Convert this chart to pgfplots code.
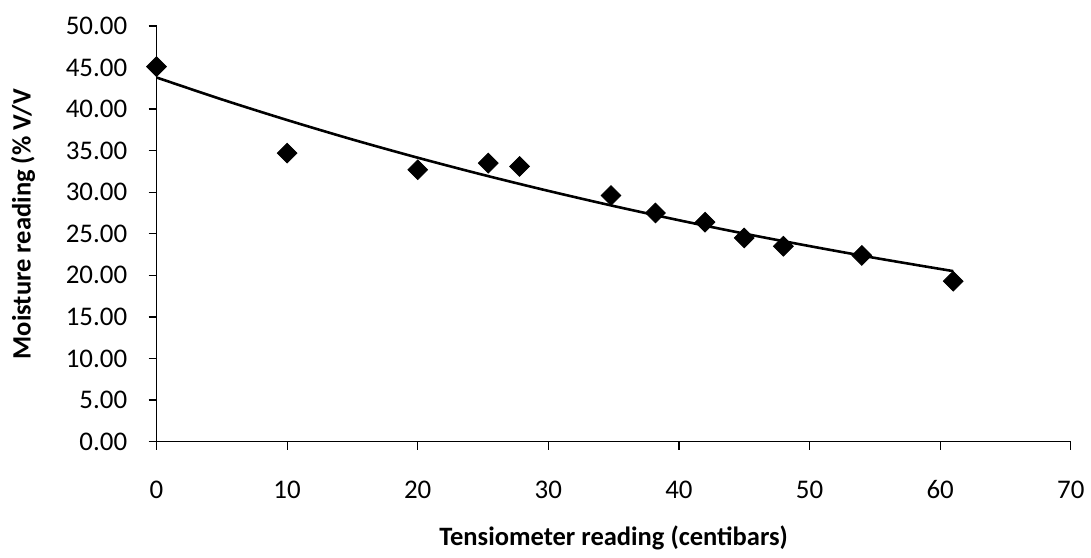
\documentclass[border=0pt]{standalone}
\usepackage{pgfplots}
\pgfplotsset{compat=1.18}
\usepackage{fontspec}
\setmainfont{Carlito}
\begin{document}
\begin{tikzpicture}
\begin{axis}[
  scale only axis,
  width=458.5bp, height=208.5bp,
  xmin=0, xmax=70, ymin=0, ymax=50,
  xtick={0,10,...,70}, ytick={0,5,...,50},
  axis lines=left,
  axis line style={-, black, line width=0.8bp},
  tick style={black, line width=0.6bp},
  major tick length=4bp,
  tick align=outside,
  clip=false,
  /pgf/number format/assume math mode=true,
  yticklabel style={/pgf/number format/.cd, fixed, fixed zerofill, precision=2, /tikz/.cd,
     font=\fontsize{13.5bp}{16bp}\selectfont, anchor=east, inner sep=0pt, xshift=-10.5bp},
  xticklabel style={font=\fontsize{13.5bp}{16bp}\selectfont, anchor=center, yshift=-20bp},
  xlabel={Tensiometer reading (centibars)},
  ylabel={Moisture reading (\% V/V},
  xlabel style={font=\bfseries\fontsize{13.3bp}{16bp}\selectfont, at={(axis description cs:0.5,0)}, anchor=center, yshift=-48.5bp},
  ylabel style={font=\bfseries\fontsize{13.3bp}{16bp}\selectfont, at={(axis description cs:-0.1461,0.523)}, anchor=center, rotate=0},
]
\addplot[only marks, mark=square*, mark size=3.5bp, mark options={rotate=45, fill=black, draw=black}] coordinates {
  (0,45.1) (10,34.7) (20,32.7) (25.4,33.5) (27.8,33.1) (34.8,29.6)
  (38.2,27.5) (42,26.4) (45,24.5) (48,23.5) (54,22.4) (61,19.3)
};
\addplot[black, line width=1.3bp, smooth] coordinates {
  (0,43.8) (5,41.16) (10,38.68) (15,36.34) (20,34.15) (25,32.09)
  (30,30.16) (35,28.34) (40,26.63) (45,25.02) (50,23.52) (55,22.10)
  (60,20.77) (61,20.51)
};
\end{axis}
\path (current axis.south west) ++(-78.5bp,-55.5bp) rectangle ++(545.5bp,277bp);
\end{tikzpicture}
\end{document}
